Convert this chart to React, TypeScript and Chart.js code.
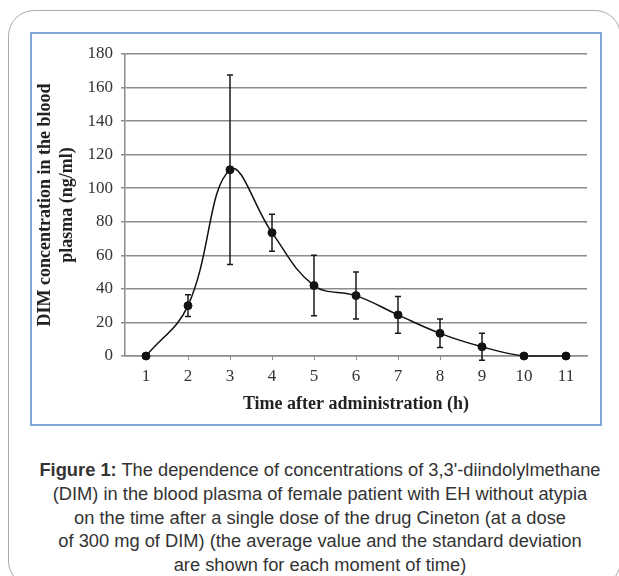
import React, { useEffect, useRef } from "react";
import { Chart, registerables } from "chart.js";

Chart.register(...registerables);

// ---- data ----
const timeLabels = ["1", "2", "3", "4", "5", "6", "7", "8", "9", "10", "11"];
const meanConc = [0, 30, 111, 73.5, 42, 36, 24.5, 13.5, 5.5, 0, 0];
const stdDev = [0, 6.5, 56.5, 11, 18, 14, 11, 8.5, 8, 0, 0];
const yMin = 0;
const yMax = 180;
const yStep = 20;
const yTitle = ["DIM concentration in the blood", "plasma (ng/ml)"];
const xTitle = "Time after administration (h)";
const captionBold = "Figure 1:";
const captionLines = [
  " The dependence of concentrations of 3,3'-diindolylmethane",
  "(DIM) in the blood plasma of female patient with EH without atypia",
  "on the time after a single dose of the drug Cineton (at a dose",
  "of 300 mg of DIM) (the average value and the standard deviation",
  "are shown for each moment of time)",
];

const SERIF = "'Liberation Serif', 'Times New Roman', serif";
const SANS = "'Liberation Sans', Arial, sans-serif";

const errorBarPlugin = {
  id: "errorBars",
  afterDatasetsDraw(chart: any) {
    const meta = chart.getDatasetMeta(0);
    const yScale = chart.scales.y;
    const ctx = chart.ctx;
    ctx.save();
    ctx.strokeStyle = "#1a1a1a";
    ctx.lineWidth = 1.5;
    meta.data.forEach((pt: any, i: number) => {
      const e = stdDev[i];
      if (!e) return;
      const x = pt.x;
      const yTop = yScale.getPixelForValue(meanConc[i] + e);
      const yBot = yScale.getPixelForValue(meanConc[i] - e);
      ctx.beginPath();
      ctx.moveTo(x, yTop);
      ctx.lineTo(x, yBot);
      ctx.moveTo(x - 3, yTop);
      ctx.lineTo(x + 3, yTop);
      ctx.moveTo(x - 3, yBot);
      ctx.lineTo(x + 3, yBot);
      ctx.stroke();
    });
    ctx.restore();
  },
};

function ConcChart() {
  const ref = useRef<HTMLCanvasElement | null>(null);
  useEffect(() => {
    if (!ref.current) return;
    const chart = new Chart(ref.current, {
      type: "line",
      data: {
        labels: timeLabels,
        datasets: [
          {
            data: meanConc,
            borderColor: "#111",
            borderWidth: 1.5,
            backgroundColor: "#111",
            pointRadius: 4,
            pointBorderWidth: 1,
            pointBackgroundColor: "#111",
            pointBorderColor: "#111",
            tension: 0.4,
            fill: false,
            clip: false as any,
          },
        ],
      },
      options: {
        responsive: false,
        animation: false,
        devicePixelRatio: 1,
        layout: { padding: { top: 20, right: 13, left: 0, bottom: 0 } },
        plugins: {
          legend: { display: false },
          tooltip: { enabled: false },
          title: { display: false },
        },
        scales: {
          x: {
            type: "category",
            offset: true,
            grid: {
              display: true,
              drawOnChartArea: false,
              drawTicks: true,
              tickLength: 4,
              color: "#8c8c8c",
              lineWidth: 1,
            },
            border: { display: true, color: "#8c8c8c", width: 1.5 },
            ticks: {
              font: { family: SERIF, size: 17 },
              color: "#333",
              padding: 6,
              maxRotation: 0,
              autoSkip: false,
            },
            title: {
              display: true,
              text: xTitle,
              font: { family: SERIF, size: 18, weight: "bold" },
              color: "#222",
              padding: { top: 0, bottom: 9 },
            },
            afterFit: (s: any) => {
              s.height = 68;
            },
          } as any,
          y: {
            min: yMin,
            max: yMax,
            ticks: {
              stepSize: yStep,
              font: { family: SERIF, size: 17 },
              color: "#333",
              padding: 8,
            },
            grid: {
              color: "#8c8c8c",
              lineWidth: 1.5,
              tickLength: 4,
              drawTicks: true,
            },
            border: { display: true, color: "#8c8c8c", width: 1.5 },
            title: {
              display: true,
              text: yTitle,
              font: { family: SERIF, size: 18, weight: "bold" },
              color: "#222",
              padding: { top: 3, bottom: 0 },
            },
            afterFit: (s: any) => {
              s.width = 93;
            },
          } as any,
        },
      },
      plugins: [errorBarPlugin],
    });
    return () => chart.destroy();
  }, []);
  return (
    <canvas
      ref={ref}
      width={568}
      height={390}
      style={{ position: "absolute", left: 32, top: 34, width: 568, height: 390 }}
    />
  );
}

export default function App() {
  return (
    <div
      style={{
        position: "absolute",
        left: 0,
        top: 0,
        width: 619,
        height: 576,
        overflow: "hidden",
        background: "#fff",
      }}
    >
      <div
        style={{
          position: "absolute",
          left: 8,
          top: 10,
          width: 613,
          height: 577,
          border: "1.5px solid #ababab",
          borderRadius: 26,
          boxSizing: "border-box",
        }}
      />
      <div
        style={{
          position: "absolute",
          left: 30,
          top: 32,
          width: 572,
          height: 394,
          border: "2px solid #80a6d8",
          boxSizing: "border-box",
        }}
      />
      <ConcChart />
      <div
        style={{
          position: "absolute",
          left: 0,
          top: 458,
          width: 640,
          textAlign: "center",
          fontFamily: SANS,
          fontSize: 18.3,
          lineHeight: "23.75px",
          color: "#333",
          whiteSpace: "nowrap",
        }}
      >
        {captionLines.map((line, i) => (
          <div key={i}>
            {i === 0 ? <b>{captionBold}</b> : null}
            {line}
          </div>
        ))}
      </div>
    </div>
  );
}
